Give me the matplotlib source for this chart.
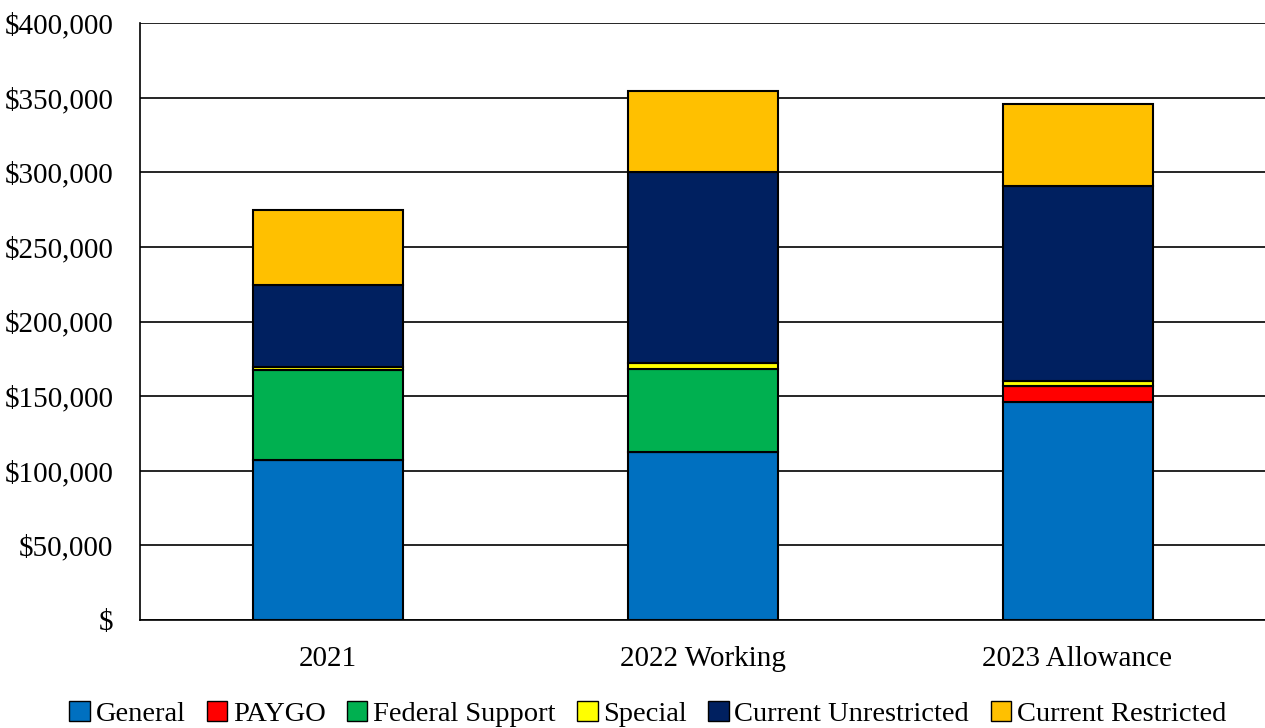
import numpy as np
import matplotlib.pyplot as plt
from matplotlib.ticker import FuncFormatter

# category labels and stacked series (in $ thousands)
categories = ['2021', '2022 Working', '2023 Allowance']
general = [107000, 112800, 146300]
paygo = [0, 0, 10500]
federal = [60500, 55600, 0]
special = [1700, 4000, 3500]
unrestricted = [55000, 128000, 130700]
restricted = [50500, 54000, 54700]

series_names = ['General', 'PAYGO', 'Federal Support', 'Special',
                'Current Unrestricted', 'Current Restricted']
series_colors = ['#0070C0', '#FF0000', '#00B050', '#FFFF00', '#002060', '#FFC000']

plt.rcParams['font.family'] = ['Liberation Serif', 'DejaVu Serif']

fig = plt.figure(figsize=(12.65, 7.28), dpi=100)
ax = fig.add_axes([140 / 1265, 1 - 620 / 728, 1 - 140 / 1265, 597 / 728])

x = np.arange(len(categories))
bottom = np.zeros(len(categories))
for name, vals, col in zip(series_names,
                           [general, paygo, federal, special, unrestricted, restricted],
                           series_colors):
    vals = np.array(vals, dtype=float)
    ax.bar(x, vals, 0.4, bottom=bottom, color=col, edgecolor='black',
           linewidth=1.5, label=name, zorder=3)
    bottom += vals

ax.set_xlim(-0.5, len(categories) - 0.5)
ax.set_ylim(0, 400000)
ax.set_yticks(np.arange(0, 400001, 50000))
ax.yaxis.set_major_formatter(FuncFormatter(lambda v, p: '$' if v == 0 else f'${v:,.0f}'))
ax.set_xticks(x)
ax.set_xticklabels(categories)
ax.tick_params(axis='both', length=0, labelsize=21, colors='black')
ax.tick_params(axis='x', pad=19)
ax.tick_params(axis='y', pad=19)
ax.grid(axis='y', color='black', linewidth=1.2, zorder=0)

for side in ['top', 'right']:
    ax.spines[side].set_visible(False)
for side in ['left', 'bottom']:
    ax.spines[side].set_linewidth(1.2)
    ax.spines[side].set_color('black')

leg = fig.legend(loc='center', bbox_to_anchor=(0.512, 1 - 714 / 728), ncol=6,
                 frameon=False, fontsize=20.5, handlelength=0.72, handleheight=0.72,
                 handletextpad=0.2, columnspacing=0.75, borderaxespad=0.0,
                 borderpad=0.0)
for h in leg.legend_handles:
    h.set_linewidth(1.0)

fig.savefig('out.png', dpi=100)
